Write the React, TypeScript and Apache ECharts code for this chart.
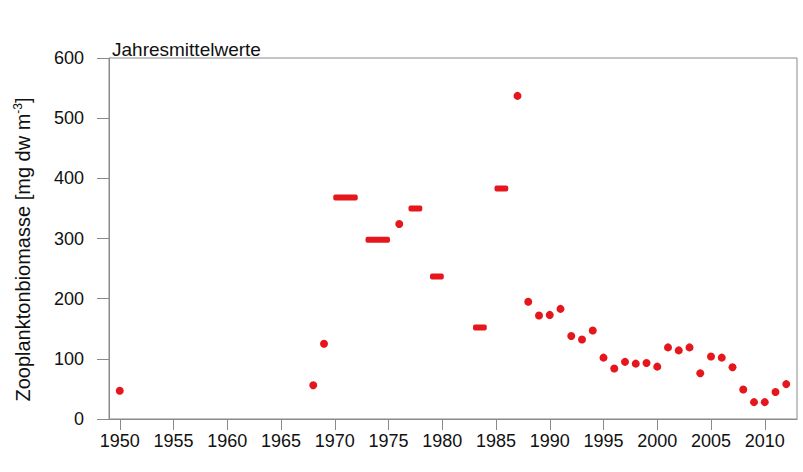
import React, { useEffect, useRef } from "react";
import * as echarts from "echarts";

const pointYears = [1950, 1968, 1969, 1976, 1987, 1988, 1989, 1990, 1991, 1992, 1993, 1994, 1995, 1996, 1997, 1998, 1999, 2000, 2001, 2002, 2003, 2004, 2005, 2006, 2007, 2008, 2009, 2010, 2011, 2012];
const pointValues = [47, 56, 125, 324, 537, 195, 172, 173, 183, 138, 132, 147, 102, 84, 95, 92, 93, 87, 119, 114, 119, 76, 104, 102, 86, 49, 28, 28, 45, 58];

const periodStart = [1970, 1973, 1977, 1979, 1983, 1985];
const periodEnd = [1972, 1975, 1978, 1980, 1984, 1986];
const periodValues = [368, 298, 350, 237, 152, 383];

const xTickYears = [1950, 1955, 1960, 1965, 1970, 1975, 1980, 1985, 1990, 1995, 2000, 2005, 2010];

const RED = "#e5161c";
const AXIS = "#8a8a8a";
const FONT = "Liberation Sans, Arial, sans-serif";

export default function App() {
  const ref = useRef<HTMLDivElement>(null);
  useEffect(() => {
    if (!ref.current) return;
    const chart = echarts.init(ref.current, undefined, { renderer: "svg" });
    chart.setOption({
      animation: false,
      backgroundColor: "#ffffff",
      title: {
        text: "Jahresmittelwerte",
        left: 107,
        top: 35,
        textStyle: { fontFamily: FONT, fontSize: 19, fontWeight: "normal", color: "#111" },
      },
      grid: {
        left: 109,
        right: 6,
        top: 58,
        bottom: 53,
        show: true,
        borderColor: AXIS,
        borderWidth: 1,
      },
      xAxis: {
        type: "value",
        min: 1949,
        max: 2013,
        splitLine: { show: false },
        axisLine: { show: true, lineStyle: { color: AXIS } },
        axisTick: { show: true, length: 11, lineStyle: { color: AXIS }, customValues: xTickYears },
        axisLabel: {
          customValues: xTickYears,
          formatter: (v: number) => String(v),
          margin: 13,
          fontFamily: FONT,
          fontSize: 18,
          color: "#111",
        },
      },
      yAxis: {
        type: "value",
        min: 0,
        max: 600,
        interval: 100,
        name: "{a|Zooplanktonbiomasse [mg dw m}{s|-3}{a|]}",
        nameLocation: "middle",
        nameGap: 76,
        nameRotate: 90,
        nameTextStyle: {
          fontFamily: FONT,
          fontSize: 20,
          color: "#111",
          padding: [0, 22, 0, 0],
          rich: {
            a: { fontFamily: FONT, fontSize: 20, color: "#111" },
            s: { fontFamily: FONT, fontSize: 12, color: "#111", padding: [0, 0, 9, 0] },
          },
        },
        splitLine: { show: false },
        axisLine: { show: true, lineStyle: { color: AXIS } },
        axisTick: { show: true, length: 12, lineStyle: { color: AXIS } },
        axisLabel: { margin: 25, fontFamily: FONT, fontSize: 18, color: "#111" },
      },
      series: [
        {
          type: "scatter",
          symbol: "circle",
          symbolSize: 8,
          itemStyle: { color: RED, opacity: 1 },
          data: pointYears.map((y, i) => [y, pointValues[i]]),
        },
        {
          type: "custom",
          data: periodStart.map((s, i) => [s, periodEnd[i], periodValues[i]]),
          encode: { x: [0, 1], y: 2 },
          renderItem: (params: any, api: any) => {
            const s = api.coord([api.value(0), api.value(2)]);
            const e = api.coord([api.value(1), api.value(2)]);
            return {
              type: "rect",
              shape: { x: s[0] - 1.5, y: s[1] - 3, width: e[0] - s[0] + 3, height: 6, r: 2 },
              style: { fill: RED },
            };
          },
        },
      ],
    });
    return () => chart.dispose();
  }, []);
  return <div ref={ref} style={{ width: 803, height: 472, position: "absolute", left: 0, top: 0 }} />;
}
